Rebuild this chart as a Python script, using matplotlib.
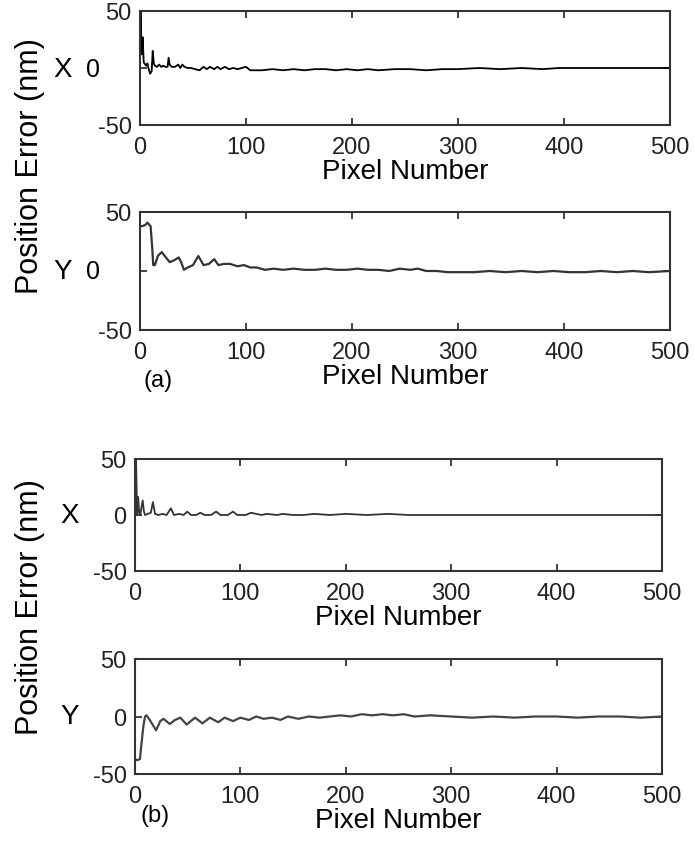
import matplotlib
matplotlib.use("Agg")
import matplotlib.pyplot as plt

plt.rcParams['font.family'] = ['Liberation Sans', 'DejaVu Sans']

W, H = 695, 845

# ---- data (pixel number, position error in nm) ----
a_x_pix = [0, 0.5, 1.5, 2.5, 3.5, 5, 6, 7, 8, 9.5, 11, 12, 13, 14, 16, 18, 20, 22, 24, 26,
           27, 28, 30, 33, 36, 38, 40, 42, 45, 48, 52, 56, 60, 63, 66, 70, 73, 76, 80, 84,
           88, 92, 96, 100, 104, 108, 115, 125, 135, 145, 155, 165, 175, 185, 195, 205,
           215, 225, 240, 255, 270, 285, 300, 320, 340, 360, 380, 395, 405, 420, 450, 480, 500]
a_x_err = [0, 50, 12, 27, 5, 3, 2, 4, 0, -5, -3, 15, 4, 2, 1, 3, 1, 2, 1, 1,
           9, 3, 1, 1, 3, 0, 3, 1, 0, 0, -1, -2, 1, -1, 1, -1, 1, -1, 1, -1,
           0, -1, 0, 1, -2, -2, -2, -1, -2, -1, -2, -1, -1, -2, -1, -2,
           -1, -2, -1, -1, -2, -1, -1, 0, -1, 0, -1, 0, 0, 0, 0, 0, 0]

a_y_pix = [0, 2, 5, 7, 10, 11.5, 12.5, 14, 17, 20.5, 24, 28, 32, 36.6, 39, 41.5, 45, 50,
           55, 60, 65, 70, 74, 79, 85, 92, 98, 104, 110, 118, 126, 135, 145, 155, 165, 175,
           185, 195, 205, 215, 225, 235, 245, 255, 262, 270, 280, 290, 300, 315, 330, 345,
           360, 375, 390, 405, 420, 435, 450, 465, 480, 500]
a_y_err = [38, 38, 39, 41, 38, 20, 5, 5, 13, 16, 12, 7.5, 9, 11.5, 7, 1, 3, 5,
           12.7, 5, 6, 10, 5, 6, 6, 4, 5, 3, 3, 1, 2, 1, 2, 1, 1, 2,
           1, 1, 2, 1, 1, 0, 2, 1, 2, 0, 0, -1, -1, -1, 0, -1,
           0, -1, 0, -1, -1, 0, -1, 0, -1, 0]

b_x_pix = [0, 1, 2, 3, 4, 5, 6, 7.3, 8.5, 9.5, 12, 15, 17, 19, 22, 26, 30, 34, 37, 42, 46,
           49.6, 53, 58, 62, 66, 72, 77, 81, 88, 93, 97, 105, 110, 120, 125, 135, 140, 150,
           160, 170, 185, 200, 220, 240, 260, 300, 340, 380, 420, 460, 500]
b_x_err = [0, 50, 0, 16, 2, 0, 6, 13, 3, 0, 1, 2, 11.5, 1, 0, 1, 0, 6, 0, 1, 0,
           3, 0, 0, 2, 0, 0, 3, 0, 0, 3, 0, 0, 2, 0, 1, 0, 1, 0,
           0, 1, 0, 1, 0, 1, 0, 0, 0, 0, 0, 0, 0]

b_y_pix = [0, 2, 4.7, 6, 8, 9.5, 11, 14, 20, 24, 27, 33, 38, 43, 49, 57, 64, 71, 79, 85,
           93, 100, 108, 115, 122, 130, 138, 145, 155, 165, 175, 185, 195, 205, 215, 225,
           235, 245, 255, 265, 280, 300, 320, 340, 360, 380, 400, 420, 440, 460, 480, 500]
b_y_err = [-37, -38, -37, -25, -8, 0, 1, -3, -12, -4, -2, -6.5, -3, -1, -7, -1, -6, -1, -5, -1,
           -4, -1, -3, 0, -2, -1, -3, 0, -2, 0, -1, 0, 1, 0, 2, 1,
           2, 1, 2, 0, 1, 0, -1, 0, -1, 0, 0, -1, 0, 0, -1, 0]

x_ticks = [0, 100, 200, 300, 400, 500]


def make_axes(left, top, right, bottom):
    return fig.add_axes([left / W, 1 - bottom / H, (right - left) / W, (bottom - top) / H])


def style(ax, zero_label):
    ax.set_xlim(0, 500)
    ax.set_ylim(-50, 50)
    ax.set_xticks(x_ticks)
    ax.set_yticks([-50, 0, 50])
    ax.set_yticklabels(['-50', '0' if zero_label else '', '50'])
    ax.tick_params(direction='in', length=5, width=1.2, top=True, right=True,
                   labelsize=17, colors='#222222')
    ax.tick_params(axis='x', pad=8)
    ax.tick_params(axis='y', pad=6)
    for s in ax.spines.values():
        s.set_linewidth(1.5)
        s.set_color('#333333')
    ax.set_xlabel('Pixel Number', fontsize=20, labelpad=0)


fig = plt.figure(figsize=(W / 100, H / 100), dpi=100)

ax1 = make_axes(140, 12, 670, 126)
ax1.plot(a_x_pix, a_x_err, color='black', lw=1.3)
style(ax1, False)

ax2 = make_axes(140, 213, 670, 331)
ax2.plot(a_y_pix, a_y_err, color='#333333', lw=1.6)
style(ax2, False)

ax3 = make_axes(135, 460, 662, 572)
ax3.plot(b_x_pix, b_x_err, color='#333333', lw=1.3)
style(ax3, True)

ax4 = make_axes(135, 660, 662, 775)
ax4.plot(b_y_pix, b_y_err, color='#444444', lw=1.6)
style(ax4, True)

# axis side labels
fs_big = 22
fig.text(30 / W, 1 - 166 / H, 'Position Error (nm)', rotation=90, fontsize=fs_big,
         ha='center', va='center')
fig.text(30 / W, 1 - 607 / H, 'Position Error (nm)', rotation=90, fontsize=fs_big,
         ha='center', va='center')
fig.text(63 / W, 1 - 70 / H, 'X', fontsize=20, ha='center', va='center')
fig.text(93 / W, 1 - 70 / H, '0', fontsize=18, ha='center', va='center')
fig.text(63 / W, 1 - 272 / H, 'Y', fontsize=20, ha='center', va='center')
fig.text(93 / W, 1 - 272 / H, '0', fontsize=18, ha='center', va='center')
fig.text(70 / W, 1 - 516 / H, 'X', fontsize=20, ha='center', va='center')
fig.text(70 / W, 1 - 717 / H, 'Y', fontsize=20, ha='center', va='center')
fig.text(158 / W, 1 - 381 / H, '(a)', fontsize=17, ha='center', va='center')
fig.text(155 / W, 1 - 816 / H, '(b)', fontsize=17, ha='center', va='center')

fig.savefig('out.png', dpi=100)
